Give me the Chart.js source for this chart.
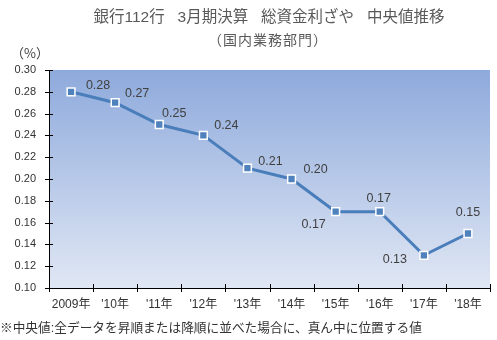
<!DOCTYPE html>
<html><head><meta charset="utf-8">
<script src="https://cdn.jsdelivr.net/npm/chart.js@4/dist/chart.umd.min.js"></script>
<style>
html,body{margin:0;padding:0;background:#fff;}
#wrap{position:relative;width:497px;height:340px;overflow:hidden;}
#wrap canvas{position:absolute;left:0;top:0;}
.t{position:absolute;white-space:nowrap;font-family:"Liberation Sans","Noto Sans CJK JP",sans-serif;line-height:1;}
.j{font-family:"Noto Sans CJK JP",sans-serif;}
</style></head>
<body>
<div id="wrap">
<canvas id="c" width="497" height="340"></canvas>
<div class="t" id="title" style="left:269px;top:9px;transform:translateX(-50%);font-size:15.5px;color:#595959;">銀行112行&nbsp;&nbsp;&nbsp;3月期決算&nbsp;&nbsp;&nbsp;総資金利ざや&nbsp;&nbsp;&nbsp;中央値推移</div>
<div class="t j" id="sub" style="left:268px;top:32px;transform:translateX(-50%);font-size:14px;letter-spacing:1px;color:#595959;">（国内業務部門）</div>
<div class="t j" id="unit" style="left:11px;top:46px;font-size:13px;color:#404040;">（%）</div>
<div class="t" id="note" style="left:0px;top:322px;font-size:12.7px;color:#333;">※中央値:全データを昇順または降順に並べた場合に、真ん中に位置する値</div>
</div>
<script>
const categories = ["2009年", "'10年", "'11年", "'12年", "'13年", "'14年", "'15年", "'16年", "'17年", "'18年"];
const medianSpread = [0.28, 0.27, 0.25, 0.24, 0.21, 0.20, 0.17, 0.17, 0.13, 0.15];
const yMin = 0.10, yMax = 0.30, yStep = 0.02;

// label offsets (style only)
const labelOffsets = [[27,-6],[22,-9],[15,-11],[23,-10],[23,-7],[24,-9],[-22,13],[-1,-13],[-29,4],[0,-21]];

const bgPlugin = {
  id: 'bg',
  beforeDraw(chart) {
    const {ctx, chartArea:a} = chart;
    const g = ctx.createLinearGradient(0, a.top, 0, a.bottom);
    g.addColorStop(0, '#8eaadc');
    g.addColorStop(1, '#e0e7f4');
    ctx.save();
    ctx.fillStyle = g;
    ctx.fillRect(a.left, a.top, a.right - a.left, a.bottom - a.top);
    ctx.restore();
  }
};

const tickPlugin = {
  id: 'crossTicks',
  afterDraw(chart) {
    const {ctx} = chart;
    const xs = chart.scales.x, ys = chart.scales.y;
    ctx.save();
    ctx.strokeStyle = '#000';
    ctx.lineWidth = 1;
    ctx.beginPath();
    ys.ticks.forEach(t => {
      const y = Math.round(ys.getPixelForValue(t.value)) + 0.5;
      ctx.moveTo(ys.right - 4, y); ctx.lineTo(ys.right + 4, y);
    });
    for (let i = 0; i <= categories.length; i++) {
      const x = Math.round(xs.getPixelForValue(i - 0.5)) + 0.5;
      ctx.moveTo(x, xs.top - 4); ctx.lineTo(x, xs.top + 4);
    }
    ctx.stroke();
    ctx.restore();
  }
};

const labelPlugin = {
  id: 'valLabels',
  afterDatasetsDraw(chart) {
    const {ctx} = chart;
    const meta = chart.getDatasetMeta(0);
    ctx.save();
    ctx.font = '12.5px "Liberation Sans", sans-serif';
    ctx.fillStyle = '#404040';
    ctx.textAlign = 'center';
    ctx.textBaseline = 'middle';
    meta.data.forEach((pt, i) => {
      const v = chart.data.datasets[0].data[i];
      const o = labelOffsets[i];
      ctx.fillText(v.toFixed(2), pt.x + o[0], pt.y + o[1]);
    });
    ctx.restore();
  }
};

new Chart(document.getElementById('c'), {
  type: 'line',
  data: {
    labels: categories,
    datasets: [{
      data: medianSpread,
      borderColor: '#4a7ebb',
      borderWidth: 3,
      tension: 0,
      pointStyle: 'rect',
      pointRadius: 5.5,
      pointHoverRadius: 5.5,
      pointBackgroundColor: '#4f81bd',
      pointBorderColor: '#ffffff',
      pointBorderWidth: 1.5,
      clip: false
    }]
  },
  options: {
    responsive: false,
    animation: false,
    devicePixelRatio: 1,
    layout: { padding: { left: 0, right: 4, top: 70, bottom: 0 } },
    plugins: { legend: { display: false }, title: { display: false }, tooltip: { enabled: false } },
    scales: {
      x: {
        offset: true,
        grid: { display: false, drawTicks: false },
        border: { display: true, color: '#000', width: 1 },
        ticks: { color: '#333', font: { size: 12, family: '"Liberation Sans","Noto Sans CJK JP",sans-serif' }, padding: 9, maxRotation: 0, autoSkip: false },
        afterFit(s) { s.height = 52; }
      },
      y: {
        min: yMin, max: yMax,
        grid: { display: false, drawTicks: false },
        border: { display: true, color: '#000', width: 1 },
        ticks: { stepSize: yStep, color: '#333', font: { size: 11, family: '"Liberation Sans",sans-serif' }, padding: 13, callback: v => Number(v).toFixed(2) },
        afterFit(s) { s.width = 49; }
      }
    }
  },
  plugins: [bgPlugin, tickPlugin, labelPlugin]
});
</script>
</body></html>
